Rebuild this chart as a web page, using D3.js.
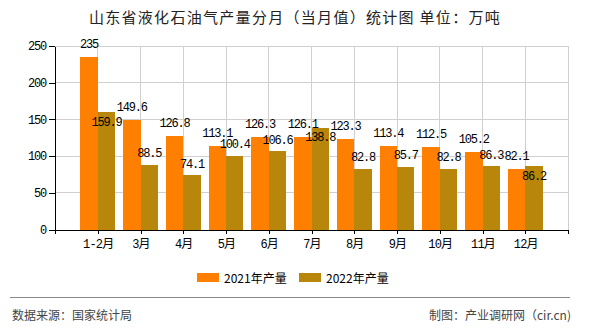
<!DOCTYPE html>
<html>
<head>
<meta charset="utf-8">
<script src="https://cdn.jsdelivr.net/npm/d3@7/dist/d3.min.js"></script>
<style>
  html, body { margin: 0; padding: 0; background: #fff; }
  svg { display: block; }
  .num { font-family: "Liberation Mono", monospace; font-size: 12px; letter-spacing: -1.2px; }
</style>
</head>
<body>
<div id="chart"></div>
<script>
// ---- data ----
const categories = ["1-2月", "3月", "4月", "5月", "6月", "7月", "8月", "9月", "10月", "11月", "12月"];
const values2021 = [235, 149.6, 126.8, 113.1, 126.3, 126.1, 123.3, 113.4, 112.5, 105.2, 82.1];
const values2022 = [159.9, 88.5, 74.1, 100.4, 106.6, 138.8, 82.8, 85.7, 82.8, 86.3, 86.2];
const yTicks = [0, 50, 100, 150, 200, 250];
const seriesNames = ["2021年产量", "2022年产量"];
const titleText = "山东省液化石油气产量分月（当月值）统计图 单位：万吨";
const sourceText = "数据来源：国家统计局";
const creditText = "制图：产业调研网（cir.cn)";

// ---- layout ----
const W = 590, H = 330;
const colors = ["#FF8000", "#B8860B"];
const svg = d3.select("#chart").append("svg").attr("width", W).attr("height", H);

const x = d3.scaleLinear().domain([0, categories.length + 1]).range([55, 568]);
const y = d3.scaleLinear().domain([0, 250]).range([229.5, 46]);
const bw = x(0.405) - x(0);

// title
svg.append("text")
  .attr("x", 295).attr("y", 23)
  .attr("text-anchor", "middle")
  .style("font-family", "'Noto Sans CJK SC', sans-serif")
  .style("font-size", "15px")
  .style("letter-spacing", "1.3px")
  .attr("fill", "#222")
  .text(titleText);

// grid
const grid = svg.append("g").attr("shape-rendering", "crispEdges");
grid.selectAll("line.h").data(yTicks.filter(d => d > 0)).join("line")
  .attr("x1", x(0)).attr("x2", x(categories.length + 1))
  .attr("y1", d => y(d)).attr("y2", d => y(d))
  .attr("stroke", "#d0d0d0");
grid.selectAll("line.v").data(d3.range(1, categories.length + 2)).join("line")
  .attr("x1", d => x(d)).attr("x2", d => x(d))
  .attr("y1", y(250)).attr("y2", y(0))
  .attr("stroke", "#d0d0d0");

// bars
const series = [values2021, values2022];
series.forEach((vals, s) => {
  svg.append("g").attr("shape-rendering", "crispEdges")
    .selectAll("rect").data(vals).join("rect")
    .attr("x", (d, i) => s === 0 ? x(i + 1) - bw : x(i + 1))
    .attr("width", bw)
    .attr("y", d => y(d))
    .attr("height", d => y(0) - y(d))
    .attr("fill", colors[s]);
});

// axes
const yAxis = svg.append("g").attr("transform", `translate(${x(0)},0)`)
  .call(d3.axisLeft(y).tickValues(yTicks).tickSize(6).tickPadding(3).tickSizeOuter(0));
const xAxis = svg.append("g").attr("transform", `translate(0,${y(0)})`)
  .call(d3.axisBottom(x).tickValues(d3.range(0, categories.length + 2))
    .tickSize(4).tickPadding(6).tickSizeOuter(0)
    .tickFormat(k => (k >= 1 && k <= categories.length) ? categories[k - 1] : ""));
[yAxis, xAxis].forEach(a => {
  a.selectAll("path,line").attr("stroke", "#000").attr("shape-rendering", "crispEdges");
  a.selectAll("text").attr("fill", "#000")
    .style("font-family", "'Liberation Mono', 'Noto Sans CJK SC', monospace")
    .style("font-size", "12px");
});
yAxis.selectAll("text").style("letter-spacing", "-1.2px");
xAxis.selectAll("text").style("letter-spacing", "-0.8px");

// value labels
const labels = svg.append("g");
const boxes2021 = [];
values2021.forEach((v, i) => {
  const cx = x(i + 1) - bw / 2;
  const base = y(v) - 9;
  const t = labels.append("text").attr("class", "num")
    .attr("x", cx).attr("y", base).attr("text-anchor", "middle").text(v);
  const w = t.node().getComputedTextLength();
  boxes2021.push({ x0: cx - w / 2, x1: cx + w / 2, y0: base - 9, y1: base });
});
values2022.forEach((v, i) => {
  const cx = x(i + 1) + bw / 2;
  const top = y(v);
  const t = labels.append("text").attr("class", "num")
    .attr("x", cx).attr("text-anchor", "middle").text(v);
  const w = t.node().getComputedTextLength();
  let base = top - 7.5;
  const lb = { x0: cx - w / 2, x1: cx + w / 2, y0: base - 9, y1: base };
  const o = boxes2021[i];
  // collision with the neighbouring label sitting just below it
  const hOverLabel = Math.min(lb.x1, o.x1) - Math.max(lb.x0, o.x0);
  const collideLabel = v > values2021[i] && hOverLabel > 0 && (o.y0 - lb.y1) < 4;
  // label swallowed by the taller neighbouring bar
  const hOverBar = x(i + 1) - lb.x0;
  const collideBar = hOverBar > 4 && y(values2021[i]) < lb.y0 - 10;
  if (collideLabel || collideBar) base = top + 13.5;
  t.attr("y", base);
});

// legend
const legend = svg.append("g").attr("transform", "translate(197,273)");
const legX = [0, 102];
seriesNames.forEach((n, s) => {
  const g = legend.append("g").attr("transform", `translate(${legX[s]},0)`);
  g.append("rect").attr("width", 22).attr("height", 9).attr("fill", colors[s]);
  g.append("text").attr("x", 27).attr("y", 9.5)
    .style("font-family", "'Noto Sans CJK SC', sans-serif")
    .style("font-size", "12px").attr("fill", "#000").text(n);
});

// footer
svg.append("line").attr("x1", 10).attr("x2", 570).attr("y1", 297.5).attr("y2", 297.5)
  .attr("stroke", "#888").attr("stroke-width", 1.2);
svg.append("text").attr("x", 12).attr("y", 320)
  .style("font-family", "'Noto Sans CJK SC', sans-serif").style("font-size", "12px")
  .attr("fill", "#444").text(sourceText);
svg.append("text").attr("x", 571).attr("y", 320).attr("text-anchor", "end")
  .style("font-family", "'Noto Sans CJK SC', sans-serif").style("font-size", "12px")
  .attr("fill", "#444").text(creditText);
</script>
</body>
</html>
